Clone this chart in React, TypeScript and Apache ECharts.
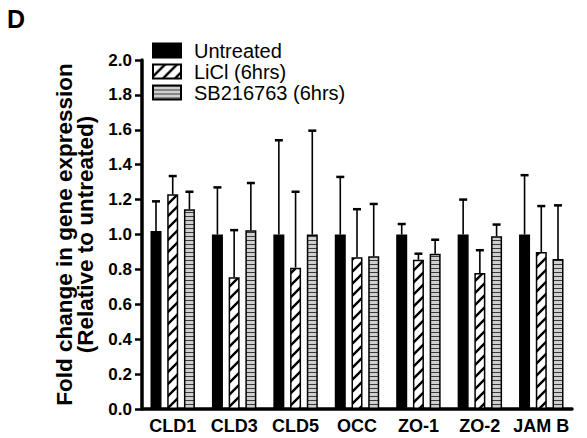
import React, { useEffect, useRef } from "react";
import * as echarts from "echarts";

const categories = ["CLD1", "CLD3", "CLD5", "OCC", "ZO-1", "ZO-2", "JAM B"];
const seriesNames = ["Untreated", "LiCl (6hrs)", "SB216763 (6hrs)"];
const untreated = [1.02, 1.0, 1.0, 1.0, 1.0, 1.0, 1.0];
const untreatedErr = [1.19, 1.27, 1.54, 1.33, 1.06, 1.2, 1.34];
const licl = [1.23, 0.755, 0.81, 0.87, 0.855, 0.78, 0.9];
const liclErr = [1.335, 1.025, 1.245, 1.145, 0.89, 0.91, 1.163];
const sb = [1.145, 1.025, 1.0, 0.875, 0.89, 0.99, 0.86];
const sbErr = [1.245, 1.295, 1.595, 1.175, 0.97, 1.057, 1.167];
const yTicks = { min: 0, max: 2.0, interval: 0.2 };

const FONT = '"Liberation Sans", Arial, Helvetica, sans-serif';
const BAR_W = 11;
const BAR_GAP = 0.52;

function makeHatch(): HTMLCanvasElement {
  const c = document.createElement("canvas");
  c.width = 12;
  c.height = 12;
  const g = c.getContext("2d")!;
  g.fillStyle = "#fff";
  g.fillRect(0, 0, 12, 12);
  g.strokeStyle = "#000";
  g.lineWidth = 2.4;
  g.beginPath();
  g.moveTo(-1, 13);
  g.lineTo(13, -1);
  g.moveTo(-3, 3);
  g.lineTo(3, -3);
  g.moveTo(9, 15);
  g.lineTo(15, 9);
  g.stroke();
  return c;
}

function makeStripes(): HTMLCanvasElement {
  const c = document.createElement("canvas");
  c.width = 4;
  c.height = 4;
  const g = c.getContext("2d")!;
  g.fillStyle = "#cfcfcf";
  g.fillRect(0, 0, 4, 4);
  g.fillStyle = "#3a3a3a";
  g.fillRect(0, 0, 4, 1);
  return c;
}

export default function App() {
  const ref = useRef<HTMLDivElement>(null);
  useEffect(() => {
    if (!ref.current) return;
    const chart = echarts.init(ref.current, undefined, { renderer: "svg" });
    const hatch = { image: makeHatch(), repeat: "repeat" };
    const stripes = { image: makeStripes(), repeat: "repeat" };
    const fills: any[] = ["#000", hatch, stripes];
    const values = [untreated, licl, sb];
    const errs = [untreatedErr, liclErr, sbErr];
    const pitch = BAR_W * (1 + BAR_GAP);

    const barSeries = seriesNames.map((name, k) => ({
      name,
      type: "bar",
      data: values[k],
      barWidth: BAR_W,
      barGap: BAR_GAP * 100 + "%",
      itemStyle: { color: fills[k], borderColor: "#000", borderWidth: 1.5 },
      z: 2,
    }));

    const errSeries = seriesNames.map((name, k) => ({
      name: "err-" + name,
      type: "custom",
      data: categories.map((_, i) => [i, errs[k][i], values[k][i]]),
      encode: { x: 0, y: 1 },
      z: 3,
      renderItem: (params: any, api: any) => {
        const i = api.value(0);
        const top = api.coord([i, api.value(1)]);
        const base = api.coord([i, api.value(2)]);
        const x = top[0] + (k - 1) * pitch;
        return {
          type: "group",
          children: [
            {
              type: "line",
              shape: { x1: x, y1: base[1], x2: x, y2: top[1] },
              style: { stroke: "#000", lineWidth: 1.6 },
            },
            {
              type: "line",
              shape: { x1: x - 4, y1: top[1], x2: x + 4, y2: top[1] },
              style: { stroke: "#000", lineWidth: 2.5 },
            },
          ],
        };
      },
    }));

    chart.setOption({
      animation: false,
      graphic: [
        {
          type: "text",
          left: 7,
          top: 6,
          style: {
            text: "D",
            font: 'bold 25px "Liberation Sans", Arial, sans-serif',
            fill: "#000",
          },
        },
      ],
      legend: {
        orient: "vertical",
        left: 152,
        top: 40,
        padding: 0,
        itemWidth: 28,
        itemHeight: 14,
        itemGap: 0,
        icon: "rect",
        selectedMode: false,
        data: seriesNames,
        textStyle: {
          fontSize: 20,
          color: "#000",
          fontFamily: FONT,
          lineHeight: 21,
          padding: [0, 0, 0, 8],
        },
      },
      grid: { left: 142, right: 15, top: 60, bottom: 29, containLabel: false },
      xAxis: {
        type: "category",
        data: categories,
        axisLine: { lineStyle: { color: "#000", width: 3.5 } },
        axisTick: { alignWithLabel: true, length: 7, lineStyle: { color: "#000", width: 2.5 } },
        axisLabel: {
          color: "#000",
          fontSize: 18,
          fontWeight: "bold",
          fontFamily: FONT,
          margin: 8,
          interval: 0,
        },
      },
      yAxis: {
        type: "value",
        min: yTicks.min,
        max: yTicks.max,
        interval: yTicks.interval,
        name: "Fold change in gene expression\n(Relative to untreated)",
        nameLocation: "middle",
        nameRotate: 90,
        nameGap: 35,
        nameTextStyle: {
          fontSize: 22.5,
          fontWeight: "bold",
          color: "#000",
          fontFamily: FONT,
          lineHeight: 21,
        },
        splitLine: { show: false },
        axisLine: { show: true, lineStyle: { color: "#000", width: 3.5 } },
        axisTick: { show: true, length: 7, lineStyle: { color: "#000", width: 2.5 } },
        axisLabel: {
          color: "#000",
          fontSize: 17,
          fontWeight: "bold",
          fontFamily: FONT,
          margin: 10,
          formatter: (v: number) => v.toFixed(1),
        },
      },
      series: [...barSeries, ...errSeries],
    });
    return () => chart.dispose();
  }, []);
  return (
    <div
      ref={ref}
      style={{ position: "fixed", left: 0, top: 0, width: 587, height: 438, background: "#fff" }}
    />
  );
}
